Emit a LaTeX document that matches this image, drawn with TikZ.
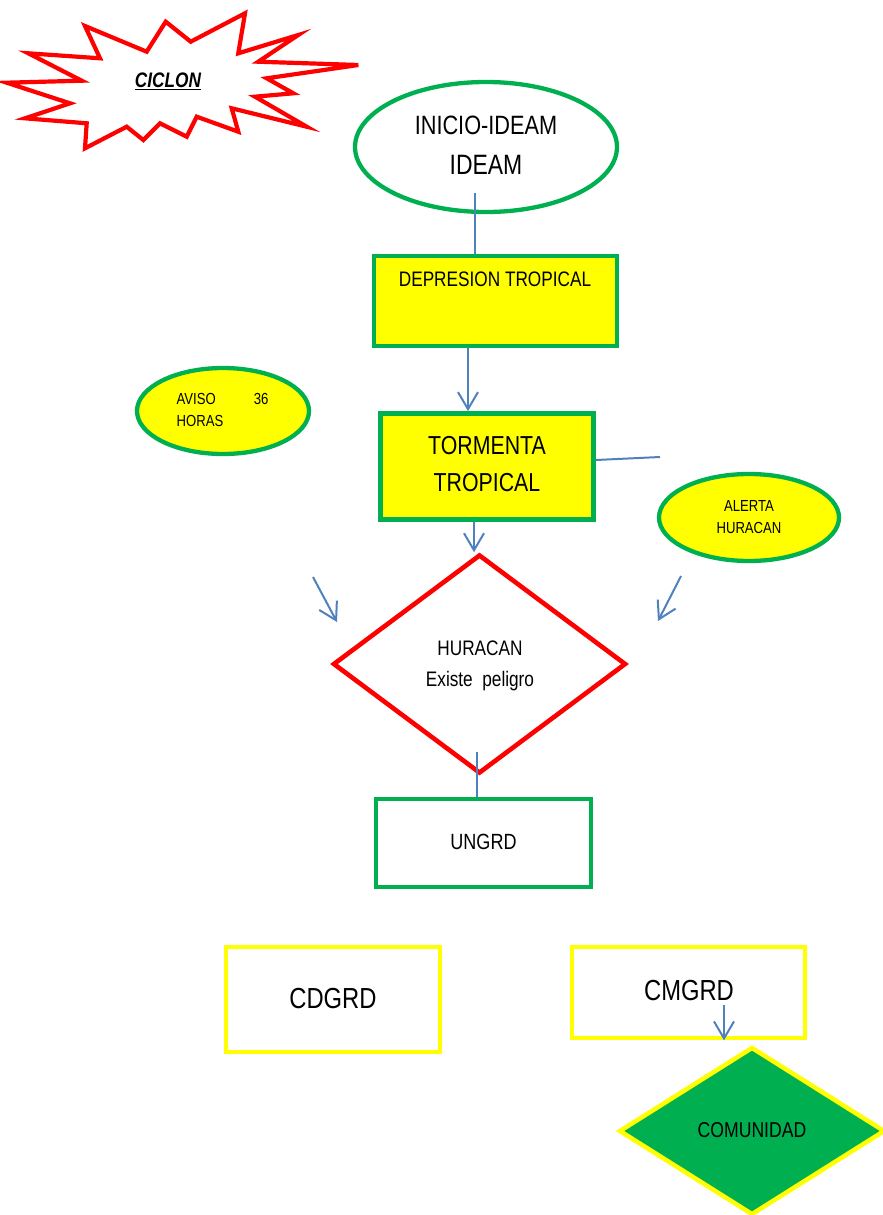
\documentclass[tikz,border=0pt]{standalone}
\usepackage{fontspec}
\setmainfont{Liberation Sans}[FakeStretch=0.82]
\usetikzlibrary{shapes.geometric,arrows.meta}
\definecolor{cgreen}{HTML}{00B050}
\definecolor{cyel}{HTML}{FFFF00}
\definecolor{cred}{HTML}{FF0000}
\definecolor{cblue}{HTML}{4F81BD}
\newcommand{\myfs}[1]{\fontsize{#1}{#1}\selectfont}
\begin{document}
\begin{tikzpicture}[x=1pt,y=-1pt,
  conn/.style={cblue, line width=2pt},
  arr/.style={conn, -{Straight Barb[length=17pt,width=20pt,line width=2pt]}},
  txt/.style={inner sep=0pt, text=black},
  gbox/.style={rectangle, draw=cgreen, line width=4.8pt, inner sep=0pt},
  ybox/.style={rectangle, draw=cyel, line width=4.8pt, fill=white, inner sep=0pt},
  gell/.style={ellipse, draw=cgreen, line width=4.3pt, inner sep=0pt}]
\useasboundingbox (0,0) rectangle (883,1215);

% star
\draw[cred, line width=4.2pt, line join=miter, fill=white]
 (6.7,82.7) -- (81.7,80.7) -- (28.3,53.3) -- (100,58.3) -- (85,26) -- (146.7,51.7)
 -- (165.7,21.7) -- (190.7,41.7) -- (245,13.3) -- (238.3,53.3) -- (298.3,35)
 -- (258.3,61.7) -- (358.3,65) -- (266.7,78.3) -- (293.3,93.3) -- (255,96.7)
 -- (306.7,126.7) -- (231.7,108.3) -- (238.3,131.7) -- (196.7,116.7) -- (186.7,136.7)
 -- (160,123.3) -- (143.3,140) -- (126.7,126.7) -- (85,148.3) -- (86.7,123.3)
 -- (25,118.3) -- (70,103.3) -- cycle;
\node[txt] (ciclon) at (168,81.7) {\myfs{21}\bfseries\itshape\underline{CICLON}};

% start ellipse
\node[gell, minimum width=262pt, minimum height=130pt] (ideam) at (486,147) {};
\node[txt] (ideamt1) at (486,125) {\myfs{26.5}INICIO-IDEAM};
\node[txt] (ideamt2) at (486,164.5) {\myfs{28}IDEAM};

% depresion
\node[gbox, fill=cyel, minimum width=243pt, minimum height=90pt] (dep) at (495.5,301) {};
\node[txt] (dept) at (495,279) {\myfs{21}DEPRESION TROPICAL};

% tormenta
\node[gbox, fill=cyel, minimum width=213pt, minimum height=106pt] (torm) at (487,466.5) {};
\node[txt] (tormt1) at (487,446) {\myfs{26}TORMENTA};
\node[txt] (tormt2) at (487,483) {\myfs{26}TROPICAL};

% aviso
\node[gell, fill=cyel, minimum width=172pt, minimum height=86pt] (aviso) at (223,411) {};
\node[txt, anchor=west] (avisot1) at (176.5,399) {\myfs{16}AVISO\hspace{38pt}36};
\node[txt, anchor=west] (avisot2) at (176.5,421) {\myfs{16}HORAS};

% alerta
\node[gell, fill=cyel, minimum width=180pt, minimum height=87pt] (alerta) at (749,517.5) {};
\node[txt] (alertat1) at (749,505.8) {\myfs{16}ALERTA};
\node[txt] (alertat2) at (749,527.5) {\myfs{16}HURACAN};

% huracan diamond
\node[diamond, draw=cred, line width=4.6pt, inner sep=0pt, minimum width=293pt, minimum height=219pt] (hur) at (479.5,664) {};
\node[txt, anchor=base] (hurt1) at (480,655.5) {\myfs{21}HURACAN};
\node[txt, anchor=base] (hurt2) at (480,686) {\myfs{21}Existe\ \ peligro};

% ungrd
\node[gbox, fill=white, minimum width=215pt, minimum height=88pt] (ungrd) at (483.5,843) {};
\node[txt] (ungrdt) at (483.5,842) {\myfs{22}UNGRD};

% cdgrd, cmgrd
\node[ybox, minimum width=214pt, minimum height=105pt] (cd) at (333,999.5) {};
\node[txt] (cdt) at (333,999) {\myfs{29}CDGRD};
\node[ybox, minimum width=233pt, minimum height=91pt] (cm) at (688.5,992.5) {};
\node[txt] (cmt) at (689,991) {\myfs{29}CMGRD};

% comunidad
\node[diamond, draw=cyel, fill=cgreen, line width=4.5pt, inner sep=0pt, minimum width=266pt, minimum height=168pt] (com) at (752,1131) {};
\node[txt] (comt) at (752,1130) {\myfs{21.5}COMUNIDAD};

% connectors
\coordinate (ideamIn) at (475,193);
\draw[conn] (ideamIn) -- (ideamIn |- dep.north);
\draw[arr] ([xshift=-27.5pt]dep.south) -- ([xshift=-27.5pt]dep.south |- torm.north);
\coordinate (tEnd) at (660,457);
\draw[conn] ([yshift=6.5pt]torm.east) -- (tEnd);
\draw[arr] ([xshift=-13pt]torm.south) -- ([xshift=-13pt]torm.south |- hur.north);
\coordinate (aL1) at (313,577);
\coordinate (aL2) at (337,622);
\draw[arr] (aL1) -- (aL2);
\coordinate (aR1) at (681,576);
\coordinate (aR2) at (658,621);
\draw[arr] (aR1) -- (aR2);
\coordinate (hIn) at (477,752);
\draw[conn] (hIn) -- (hIn |- ungrd.north);
\coordinate (cmIn) at (724,1005);
\draw[arr] (cmIn) -- (cmIn |- cm.south);
\end{tikzpicture}
\end{document}
